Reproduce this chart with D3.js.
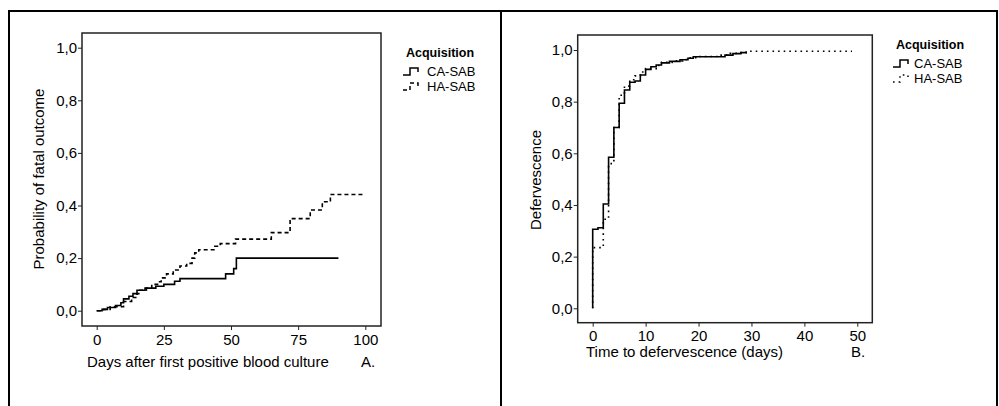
<!DOCTYPE html>
<html>
<head>
<meta charset="utf-8">
<script src="https://cdn.jsdelivr.net/npm/d3@7"></script>
<style>
  body { margin: 0; background: #fff; }
  svg { display: block; font-family: "Liberation Sans", Arial, sans-serif; }
</style>
</head>
<body>
<div class="canva"></div>
<script>
// panel A: probability of fatal outcome (cumulative incidence)
const aCaDays = [0, 2, 4, 7, 9, 10, 12, 13.5, 15, 18, 22, 25, 29, 31, 48, 51, 52, 90];
const aCaProb = [0, 0.005, 0.012, 0.02, 0.03, 0.045, 0.055, 0.065, 0.078, 0.086, 0.093, 0.1, 0.112, 0.122, 0.14, 0.16, 0.2, 0.2];
const aHaDays = [0, 2.5, 5, 10, 13, 15, 16, 18.5, 20.5, 23, 24, 26, 28.5, 31, 33.5, 35.5, 36.5, 38, 44, 46, 51.7, 65, 72, 79.5, 84, 87, 100];
const aHaProb = [0, 0.005, 0.015, 0.035, 0.05, 0.065, 0.078, 0.086, 0.1, 0.11, 0.125, 0.14, 0.155, 0.17, 0.18, 0.2, 0.22, 0.232, 0.245, 0.255, 0.272, 0.297, 0.35, 0.383, 0.414, 0.442, 0.442];

// panel B: defervescence
const bCaDays = [0, 0, 1, 2, 3, 4, 5, 6, 7, 8, 9, 10, 11, 12, 13, 14.5, 16.5, 18, 19, 25, 26.5, 28, 29];
const bCaProb = [0, 0.306, 0.312, 0.404, 0.585, 0.7, 0.794, 0.845, 0.875, 0.88, 0.903, 0.925, 0.935, 0.942, 0.95, 0.956, 0.962, 0.968, 0.974, 0.98, 0.986, 0.99, 0.993];
const bHaDays = [0, 0, 2, 3, 4, 5, 6, 7, 8, 9, 10, 12, 13, 15, 17, 18, 20, 24, 26, 28, 29, 49];
const bHaProb = [0, 0.235, 0.345, 0.56, 0.7, 0.825, 0.86, 0.885, 0.9, 0.915, 0.928, 0.94, 0.952, 0.958, 0.963, 0.97, 0.975, 0.98, 0.987, 0.99, 0.995, 0.995];

const yTicks = [0, 0.2, 0.4, 0.6, 0.8, 1.0];
const aXTicks = [0, 25, 50, 75, 100];
const bXTicks = [0, 10, 20, 30, 40, 50];
const groups = ["CA-SAB", "HA-SAB"];

const svg = d3.select(".canva").append("svg")
    .attr("width", 999)
    .attr("height", 406);

// outer frame of the figure
svg.append("path")
    .attr("d", "M9,406 V11 H997 V406 M501,11 V406")
    .attr("fill", "none")
    .attr("stroke", "#000")
    .attr("stroke-width", 2);

const fmt = d => d3.format(".1f")(d).replace(".", ",");

function panel(cfg) {
    const x = d3.scaleLinear().domain(cfg.xDomain).range(cfg.xRange);
    const y = d3.scaleLinear().domain([0, 1]).range(cfg.yRange);
    const g = svg.append("g");

    g.append("rect")
        .attr("x", cfg.box[0])
        .attr("y", cfg.box[1])
        .attr("width", cfg.box[2] - cfg.box[0])
        .attr("height", cfg.box[3] - cfg.box[1])
        .attr("fill", "none")
        .attr("stroke", "#222")
        .attr("stroke-width", 1.5);

    const yAxis = g.append("g")
        .attr("transform", `translate(${cfg.box[0]},0)`)
        .call(d3.axisLeft(y).tickValues(yTicks).tickSize(4).tickPadding(1).tickFormat(fmt));
    const xAxis = g.append("g")
        .attr("transform", `translate(0,${cfg.box[3]})`)
        .call(d3.axisBottom(x).tickValues(cfg.xTicks).tickSize(4).tickPadding(4));
    [yAxis, xAxis].forEach(ax => {
        ax.select(".domain").remove();
        ax.selectAll("line").attr("stroke", "#222");
        ax.selectAll("text")
            .attr("fill", "#000")
            .style("font-size", "15px")
            .style("font-family", "'Liberation Sans', Arial, sans-serif");
    });

    const line = d3.line()
        .x(d => x(d[0]))
        .y(d => y(d[1]))
        .curve(d3.curveStepAfter);

    g.append("path")
        .datum(d3.zip(cfg.caDays, cfg.caProb))
        .attr("d", line)
        .attr("fill", "none")
        .attr("stroke", "#000")
        .attr("stroke-width", 1.6);

    g.append("path")
        .datum(d3.zip(cfg.haDays, cfg.haProb))
        .attr("d", line)
        .attr("fill", "none")
        .attr("stroke", "#000")
        .attr("stroke-width", 1.6)
        .attr("stroke-dasharray", cfg.haDash);

    g.append("text")
        .attr("x", cfg.xTitle[0])
        .attr("y", cfg.xTitle[1])
        .style("font-size", "15px")
        .text(cfg.xLabel);

    g.append("text")
        .attr("x", cfg.tag[0])
        .attr("y", cfg.tag[1])
        .style("font-size", "15px")
        .text(cfg.tagText);

    g.append("text")
        .attr("transform", `translate(${cfg.yTitle[0]},${cfg.yTitle[1]}) rotate(-90)`)
        .attr("text-anchor", "middle")
        .style("font-size", "15px")
        .text(cfg.yLabel);

    // legend
    const lx = cfg.legend[0], ly = cfg.legend[1];
    g.append("text")
        .attr("x", cfg.legendTitleX)
        .attr("y", ly)
        .style("font-size", "12.5px")
        .style("font-weight", "bold")
        .text("Acquisition");
    groups.forEach((name, i) => {
        const by = ly + 19 + i * 15;
        g.append("path")
            .attr("d", `M${lx},${by - 1} h7 v-7 h8 v4`)
            .attr("fill", "none")
            .attr("stroke", "#000")
            .attr("stroke-width", 1.5)
            .attr("stroke-dasharray", i === 0 ? null : cfg.haDash);
        g.append("text")
            .attr("x", lx + cfg.legendGap)
            .attr("y", by)
            .style("font-size", "13px")
            .text(name);
    });
}

panel({
    xDomain: [0, 100], xRange: [96.7, 365.3], yRange: [310.7, 47.7],
    box: [82, 33, 381, 326], xTicks: aXTicks,
    caDays: aCaDays, caProb: aCaProb, haDays: aHaDays, haProb: aHaProb,
    haDash: "4,3",
    xLabel: "Days after first positive blood culture", xTitle: [87, 367],
    tagText: "A.", tag: [361, 367],
    yLabel: "Probability of fatal outcome", yTitle: [44, 179],
    legend: [403, 57], legendTitleX: 406, legendGap: 24
});

panel({
    xDomain: [0, 50], xRange: [592.7, 857.3], yRange: [308.3, 50],
    box: [577.7, 35, 872.3, 322.7], xTicks: bXTicks,
    caDays: bCaDays, caProb: bCaProb, haDays: bHaDays, haProb: bHaProb,
    haDash: "1.6,4",
    xLabel: "Time to defervescence (days)", xTitle: [586, 357],
    tagText: "B.", tag: [851, 357],
    yLabel: "Defervescence", yTitle: [541, 180],
    legend: [893, 49], legendTitleX: 896, legendGap: 21
});
</script>
</body>
</html>
